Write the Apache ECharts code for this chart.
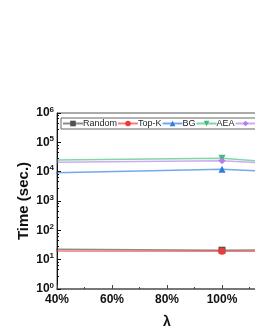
<!DOCTYPE html>
<html><head><meta charset="utf-8">
<script src="https://cdn.jsdelivr.net/npm/echarts@6/dist/echarts.min.js"></script>
<style>html,body{margin:0;padding:0;background:#fff}#c{width:255px;height:330px}</style>
</head><body><div id="c"></div>
<script>
var lambdas = [20, 100, 120];
var seriesNames = ['Random', 'Top-K', 'BG', 'AEA', 'AEA+'];
var randomVals = [23.1, 21, 21.5];
var topkVals = [20, 19.4, 19.3];
var bgVals = [8450, 12000, 9900];
var aeaVals = [23900, 28600, 20900];
var aeaPlusVals = [20000, 23700, 18500];
var xTicks = ['40%', '60%', '80%', '100%', '120%'];
var colors = ['#505050', '#f03a3a', '#2b7be0', '#3fbf78', '#b47ee6'];
var symbols = ['rect', 'circle', 'triangle', 'path://M0,0 L10,0 L5,9 Z', 'diamond'];
var allVals = [randomVals, topkVals, bgVals, aeaVals, aeaPlusVals];

var chart = echarts.init(document.getElementById('c'), null, {renderer: 'canvas'});
var series = seriesNames.map(function (n, i) {
  return {
    name: n, type: 'line',
    data: lambdas.map(function (x, j) { return [x, allVals[i][j]]; }),
    symbol: symbols[i], symbolSize: 7,
    itemStyle: {color: colors[i]},
    lineStyle: {color: colors[i], width: 1.5, opacity: 0.65},
    clip: true
  };
});
chart.setOption({
  animation: false,
  textStyle: {fontFamily: 'Liberation Sans, Arial, sans-serif'},
  grid: {left: 57, top: 113, width: 220, height: 176, outerBoundsMode: 'none', containLabel: false,
    show: true, borderColor: '#555', borderWidth: 1},
  legend: {
    left: 61, top: 118, width: 500, padding: [1, 3, 1, 1], itemGap: 0, itemWidth: 20, itemHeight: 7,
    borderColor: '#666', borderWidth: 1,
    textStyle: {fontSize: 9, color: '#222', padding: [0, 0, 0, -5]},
    data: seriesNames
  },
  xAxis: {
    type: 'value', min: 40, max: 120, interval: 20,
    name: 'λ', nameLocation: 'middle', nameGap: 26, nameMoveOverlap: false,
    nameTextStyle: {fontSize: 14, fontWeight: 'bold', color: '#111'},
    axisLine: {lineStyle: {color: '#777', width: 2}},
    axisTick: {inside: true, length: 4, lineStyle: {color: '#444'}},
    minorTick: {show: true, splitNumber: 2, length: 2, lineStyle: {color: '#444'}},
    splitLine: {show: false},
    axisLabel: {fontSize: 12, fontWeight: 'bold', color: '#111', margin: 5,
      formatter: function (v) { return v + '%'; }}
  },
  yAxis: {
    type: 'log', min: 1, max: 1000000, logBase: 10,
    name: 'Time (sec.)', nameLocation: 'middle', nameGap: 26, nameMoveOverlap: false,
    nameTextStyle: {fontSize: 15, fontWeight: 'bold', color: '#111'},
    axisLine: {show: true, lineStyle: {color: '#111', width: 1}},
    axisTick: {inside: true, length: 4, lineStyle: {color: '#111'}},
    minorTick: {show: true, splitNumber: 5, length: 2, lineStyle: {color: '#111'}},
    splitLine: {show: false},
    axisLabel: {
      margin: 3, color: '#111',
      formatter: function (v) {
        var e = Math.round(Math.log10(v));
        return '{b|10}{s|' + e + '}';
      },
      rich: {
        b: {fontSize: 12, fontWeight: 'bold', color: '#111'},
        s: {fontSize: 8, fontWeight: 'bold', color: '#111', verticalAlign: 'top', padding: [0, 0, 7, 0]}
      }
    }
  },
  series: series
});
</script></body></html>
